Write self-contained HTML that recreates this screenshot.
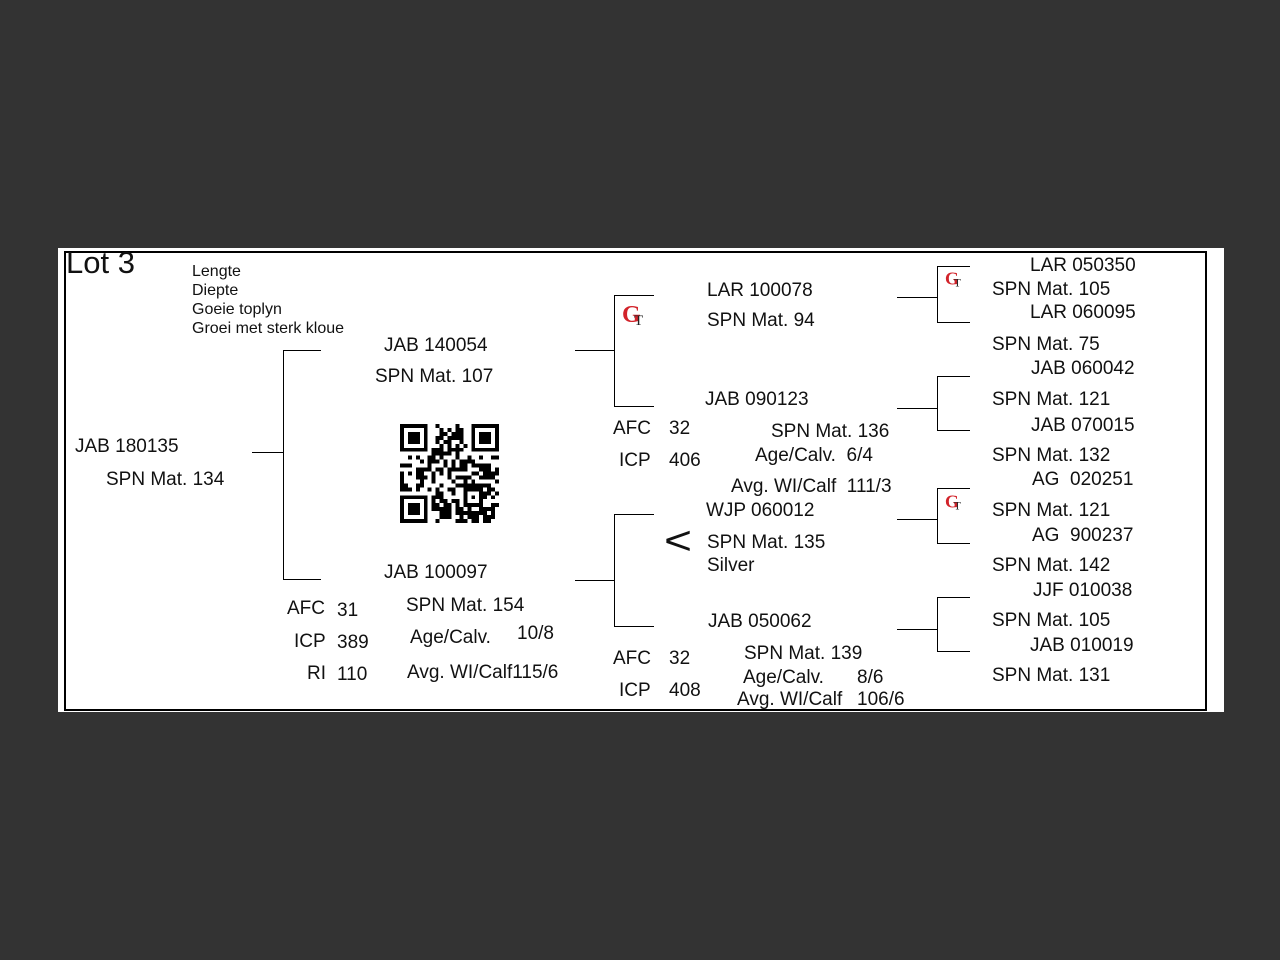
<!DOCTYPE html>
<html><head><meta charset="utf-8"><style>
html,body{margin:0;padding:0;background:#333;width:1280px;height:960px;overflow:hidden}
#pg{position:absolute;left:58px;top:248px;width:1166px;height:464px;background:#fff}
.t{position:absolute;font-family:"Liberation Sans",Arial,sans-serif;font-size:19px;line-height:20px;color:#111;white-space:pre;margin-top:2px}
.s{font-size:16px;line-height:16px}
.h{position:absolute;height:1px;background:#000}
.v{position:absolute;width:1px;background:#000}
.gt{position:absolute;width:30px;height:30px;font-family:"Liberation Serif",serif}
.gt b{position:absolute;left:0px;top:0px;color:#d2232a;font-size:24px;line-height:24px;font-weight:bold}
.gt i{position:absolute;left:12px;top:11px;font-style:normal;color:#222;font-size:15px;line-height:15px}
</style></head><body>
<div id="pg"></div>
<!-- border -->
<div class="h" style="left:64px;top:251px;width:1143px;height:1.5px"></div>
<div class="h" style="left:64px;top:709px;width:1143px;height:1.5px"></div>
<div class="v" style="left:64px;top:251px;height:460px;width:1.5px"></div>
<div class="v" style="left:1205px;top:251px;height:460px;width:1.5px"></div>

<!-- brackets -->
<div class="h" style="left:252px;top:452px;width:31px"></div>
<div class="v" style="left:283px;top:350px;height:230px"></div>
<div class="h" style="left:283px;top:350px;width:38px"></div>
<div class="h" style="left:283px;top:579px;width:38px"></div>

<div class="h" style="left:575px;top:350px;width:39px"></div>
<div class="v" style="left:614px;top:295px;height:112px"></div>
<div class="h" style="left:614px;top:295px;width:40px"></div>
<div class="h" style="left:614px;top:406px;width:40px"></div>

<div class="h" style="left:575px;top:580px;width:39px"></div>
<div class="v" style="left:614px;top:514px;height:113px"></div>
<div class="h" style="left:614px;top:514px;width:40px"></div>
<div class="h" style="left:614px;top:626px;width:40px"></div>

<div class="h" style="left:897px;top:297px;width:40px"></div>
<div class="v" style="left:937px;top:266px;height:57px"></div>
<div class="h" style="left:937px;top:266px;width:33px"></div>
<div class="h" style="left:937px;top:322px;width:33px"></div>

<div class="h" style="left:897px;top:408px;width:40px"></div>
<div class="v" style="left:937px;top:376px;height:55px"></div>
<div class="h" style="left:937px;top:376px;width:33px"></div>
<div class="h" style="left:937px;top:430px;width:33px"></div>

<div class="h" style="left:897px;top:519px;width:40px"></div>
<div class="v" style="left:937px;top:488px;height:56px"></div>
<div class="h" style="left:937px;top:488px;width:33px"></div>
<div class="h" style="left:937px;top:543px;width:33px"></div>

<div class="h" style="left:897px;top:629px;width:40px"></div>
<div class="v" style="left:937px;top:597px;height:55px"></div>
<div class="h" style="left:937px;top:597px;width:33px"></div>
<div class="h" style="left:937px;top:651px;width:33px"></div>

<!-- logos -->
<div class="gt" style="left:622px;top:303px"><b>G</b><i>T</i></div>
<div class="gt" style="left:945px;top:270px;transform:scale(.75);transform-origin:0 0"><b>G</b><i>T</i></div>
<div class="gt" style="left:945px;top:493px;transform:scale(.75);transform-origin:0 0"><b>G</b><i>T</i></div>

<!-- QR -->
<svg id="qr" style="position:absolute;left:400px;top:424px" width="99" height="99" viewBox="0 0 25 25" shape-rendering="crispEdges"></svg>
<script>
(function(){var s=document.getElementById('qr'),n=25,h='',seed=12345;
function r(){seed=(seed*1103515245+12345)&0x7fffffff;return seed/0x7fffffff;}
function f(x,y){return (x<8&&y<8)||(x>=n-8&&y<8)||(x<8&&y>=n-8);}
for(var y=0;y<n;y++)for(var x=0;x<n;x++){if(f(x,y))continue;if(r()<0.5)h+='<rect x="'+x+'" y="'+y+'" width="1" height="1"/>';}
[[0,0],[18,0],[0,18]].forEach(function(p){h+='<rect x="'+p[0]+'" y="'+p[1]+'" width="7" height="7"/><rect x="'+(p[0]+1)+'" y="'+(p[1]+1)+'" width="5" height="5" fill="#fff"/><rect x="'+(p[0]+2)+'" y="'+(p[1]+2)+'" width="3" height="3"/>';});
h+='<rect x="16" y="16" width="5" height="5"/><rect x="17" y="17" width="3" height="3" fill="#fff"/><rect x="18" y="18" width="1" height="1"/>';
s.innerHTML=h;})();
</script>

<!-- text -->
<div class="t" style="left:66px;top:245px;font-size:31px;line-height:32px">Lot 3</div>
<div class="t s" style="left:192px;top:262px">Lengte</div>
<div class="t s" style="left:192px;top:281px">Diepte</div>
<div class="t s" style="left:192px;top:300px">Goeie toplyn</div>
<div class="t s" style="left:192px;top:319px">Groei met sterk kloue</div>

<div class="t" style="left:75px;top:435px">JAB 180135</div>
<div class="t" style="left:106px;top:468px">SPN Mat. 134</div>
<div class="t" style="left:384px;top:334px">JAB 140054</div>
<div class="t" style="left:375px;top:365px">SPN Mat. 107</div>
<div class="t" style="left:384px;top:561px">JAB 100097</div>
<div class="t" style="left:287px;top:597px">AFC</div>
<div class="t" style="left:337px;top:599px">31</div>
<div class="t" style="left:294px;top:630px">ICP</div>
<div class="t" style="left:337px;top:631px">389</div>
<div class="t" style="left:307px;top:662px">RI</div>
<div class="t" style="left:337px;top:663px">110</div>
<div class="t" style="left:406px;top:594px">SPN Mat. 154</div>
<div class="t" style="left:410px;top:626px">Age/Calv.</div>
<div class="t" style="left:517px;top:622px">10/8</div>
<div class="t" style="left:407px;top:661px">Avg. WI/Calf115/6</div>

<div class="t" style="left:707px;top:279px">LAR 100078</div>
<div class="t" style="left:707px;top:309px">SPN Mat. 94</div>
<div class="t" style="left:705px;top:388px">JAB 090123</div>
<div class="t" style="left:613px;top:417px">AFC</div>
<div class="t" style="left:669px;top:417px">32</div>
<div class="t" style="left:619px;top:449px">ICP</div>
<div class="t" style="left:669px;top:449px">406</div>
<div class="t" style="left:771px;top:420px">SPN Mat. 136</div>
<div class="t" style="left:755px;top:444px">Age/Calv.  6/4</div>
<div class="t" style="left:731px;top:475px">Avg. WI/Calf  111/3</div>
<div class="t" style="left:706px;top:499px">WJP 060012</div>
<div class="t" style="left:664px;top:519px;font-size:40px;line-height:40px;transform:scaleX(1.2);transform-origin:0 0;font-weight:100">&lt;</div>
<div class="t" style="left:707px;top:531px">SPN Mat. 135</div>
<div class="t" style="left:707px;top:554px">Silver</div>
<div class="t" style="left:708px;top:610px">JAB 050062</div>
<div class="t" style="left:613px;top:647px">AFC</div>
<div class="t" style="left:669px;top:647px">32</div>
<div class="t" style="left:619px;top:679px">ICP</div>
<div class="t" style="left:669px;top:679px">408</div>
<div class="t" style="left:744px;top:642px">SPN Mat. 139</div>
<div class="t" style="left:743px;top:666px">Age/Calv.</div>
<div class="t" style="left:857px;top:666px">8/6</div>
<div class="t" style="left:737px;top:688px">Avg. WI/Calf</div>
<div class="t" style="left:857px;top:688px">106/6</div>

<div class="t" style="left:1030px;top:254px">LAR 050350</div>
<div class="t" style="left:992px;top:278px">SPN Mat. 105</div>
<div class="t" style="left:1030px;top:301px">LAR 060095</div>
<div class="t" style="left:992px;top:333px">SPN Mat. 75</div>
<div class="t" style="left:1031px;top:357px">JAB 060042</div>
<div class="t" style="left:992px;top:388px">SPN Mat. 121</div>
<div class="t" style="left:1031px;top:414px">JAB 070015</div>
<div class="t" style="left:992px;top:444px">SPN Mat. 132</div>
<div class="t" style="left:1032px;top:468px">AG  020251</div>
<div class="t" style="left:992px;top:499px">SPN Mat. 121</div>
<div class="t" style="left:1032px;top:524px">AG  900237</div>
<div class="t" style="left:992px;top:554px">SPN Mat. 142</div>
<div class="t" style="left:1033px;top:579px">JJF 010038</div>
<div class="t" style="left:992px;top:609px">SPN Mat. 105</div>
<div class="t" style="left:1030px;top:634px">JAB 010019</div>
<div class="t" style="left:992px;top:664px">SPN Mat. 131</div>
</body></html>
